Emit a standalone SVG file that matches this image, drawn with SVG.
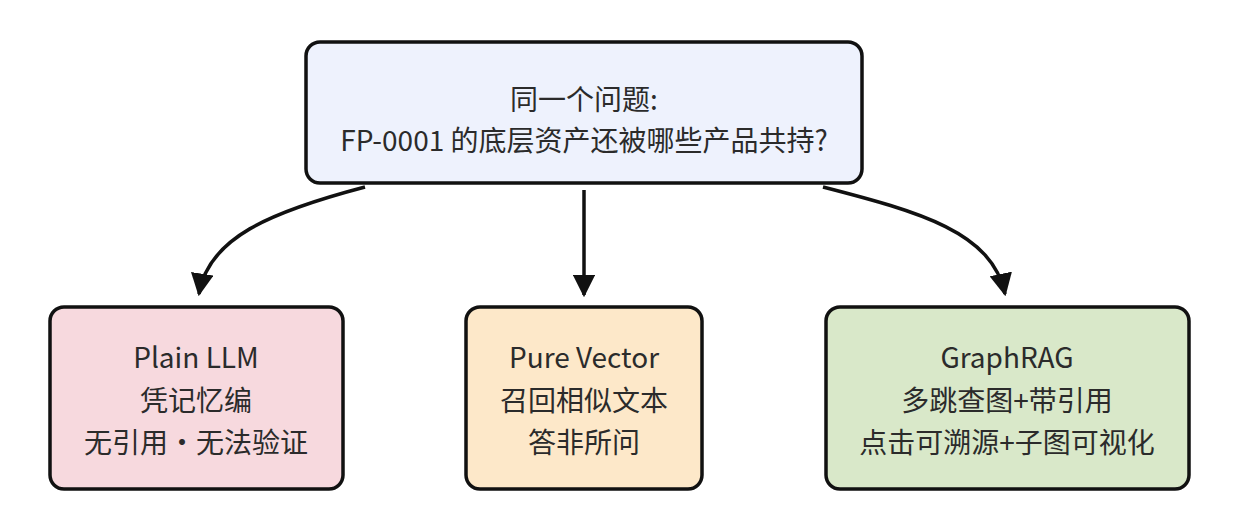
<svg xmlns="http://www.w3.org/2000/svg" width="1239" height="527" viewBox="0 0 1239 527">
<style>
.box{stroke:#111;stroke-width:3.5}
.t{font-family:"Noto Sans CJK SC","Noto Sans",sans-serif;font-size:28px;fill:#2b2b2b;text-anchor:middle}
.c{fill:none;stroke:#111;stroke-width:3.5}
</style>
<defs>
<marker id="ah" viewBox="0 0 10 10" refX="9" refY="5" markerWidth="6.5" markerHeight="6.5" markerUnits="strokeWidth" orient="auto">
<path d="M0,0 L10,5 L0,10 Z" fill="#111"/>
</marker>
</defs>
<rect width="1239" height="527" fill="#fff"/>
<g id="connectors">
<path class="c" d="M365,187 C270,212 208,238 199,294" marker-end="url(#ah)"/>
<path class="c" d="M584,190 L584,295" marker-end="url(#ah)"/>
<path class="c" d="M823,187 C920,212 992,232 1005,294" marker-end="url(#ah)"/>
</g>
<g id="question">
<rect class="box" x="306" y="42" width="556" height="141" rx="14" fill="#eef2fd"/>
<text class="t" x="584" y="110">同一个问题:</text>
<text class="t" x="584" y="151">FP-0001 的底层资产还被哪些产品共持?</text>
</g>
<g id="plain-llm">
<rect class="box" x="50" y="307" width="293" height="182" rx="14" fill="#f7d9de"/>
<text class="t" x="196" y="368">Plain LLM</text>
<text class="t" x="196" y="411">凭记忆编</text>
<text class="t" x="196" y="453">无引用・无法验证</text>
</g>
<g id="pure-vector">
<rect class="box" x="466" y="307" width="236" height="182" rx="14" fill="#fde8c9"/>
<text class="t" x="584" y="368">Pure Vector</text>
<text class="t" x="584" y="411">召回相似文本</text>
<text class="t" x="584" y="453">答非所问</text>
</g>
<g id="graphrag">
<rect class="box" x="826" y="307" width="363" height="182" rx="14" fill="#d9e8c9"/>
<text class="t" x="1007" y="368">GraphRAG</text>
<text class="t" x="1007" y="411">多跳查图+带引用</text>
<text class="t" x="1007" y="453">点击可溯源+子图可视化</text>
</g>
</svg>
